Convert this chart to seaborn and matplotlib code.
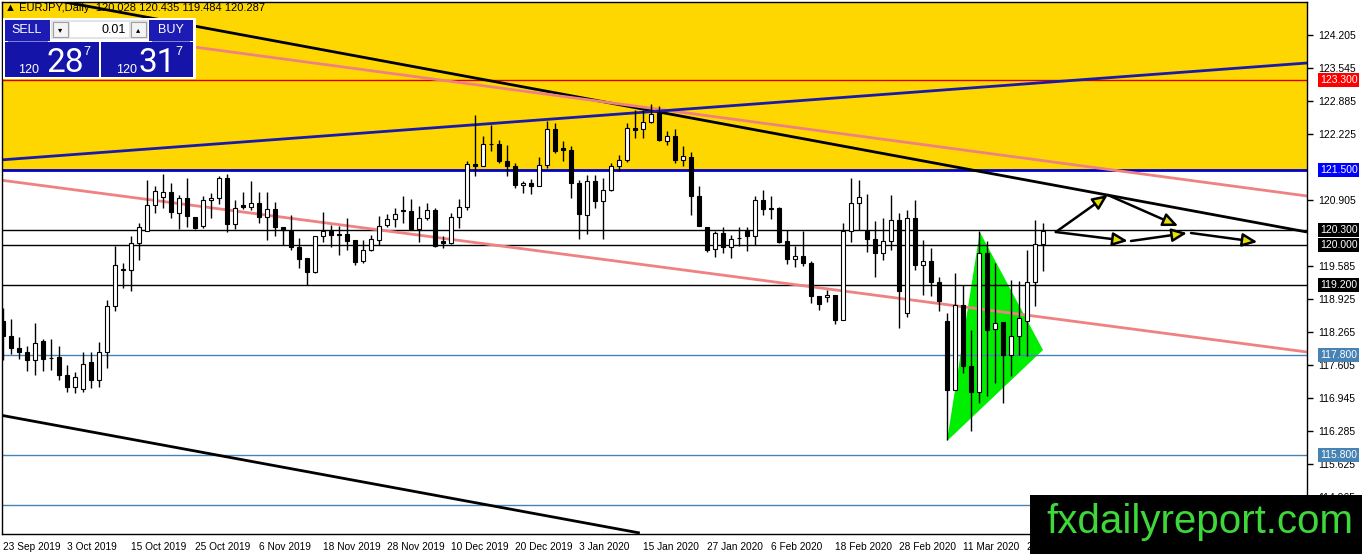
import numpy as np
import pandas as pd
import matplotlib
matplotlib.use('Agg')
import matplotlib.pyplot as plt
import matplotlib.transforms as mtransforms
from matplotlib.patches import Rectangle, Polygon
import seaborn as sns

# EURJPY daily candles (23 Sep 2019 .. 23 Mar 2020)
opens = [118.47, 118.18, 117.93, 117.86, 117.69, 118.08, 117.74, 117.75, 117.40, 117.15,
         117.11, 117.65, 117.30, 117.85, 118.78, 119.50, 119.50, 120.03, 120.28, 120.80,
         120.95, 121.05, 120.63, 120.93, 120.55, 120.37, 120.89, 120.93, 121.33, 120.42,
         120.80, 120.75, 120.83, 120.55, 120.71, 120.35, 120.28, 119.95, 119.73, 119.45,
         120.18, 120.27, 120.21, 120.21, 120.10, 119.67, 119.89, 120.10, 120.39, 120.51,
         120.70, 120.67, 120.31, 120.53, 120.70, 120.08, 120.03, 120.55, 120.75, 121.62,
         121.57, 122.02, 122.01, 121.68, 121.57, 121.19, 121.23, 121.17, 121.59, 122.32,
         121.93, 121.90, 121.23, 120.60, 121.28, 120.87, 121.09, 121.57, 121.69, 122.33,
         122.31, 122.45, 122.63, 122.08, 122.18, 121.69, 121.75, 120.98, 120.35, 119.91,
         120.23, 119.95, 120.13, 120.27, 120.18, 120.90, 120.73, 120.73, 120.07, 119.71,
         119.78, 119.63, 118.98, 118.95, 119.00, 118.49, 120.27, 120.83, 120.28, 120.11,
         119.83, 120.07, 120.50, 118.63, 120.53, 119.60, 119.68, 119.25, 118.47, 117.10,
         118.80, 117.58, 117.05, 119.83, 118.31, 118.45, 117.80, 118.17, 118.47, 119.25,
         120.028]
highs = [118.73, 118.52, 118.15, 117.97, 118.43, 118.12, 118.12, 117.97, 117.60, 117.45,
         117.85, 117.85, 118.05, 118.90, 119.97, 119.63, 120.18, 120.43, 121.30, 121.18,
         121.42, 121.23, 121.00, 121.33, 120.55, 120.97, 121.03, 121.38, 121.42, 120.90,
         121.05, 121.27, 121.05, 121.05, 120.85, 120.35, 120.60, 120.13, 119.73, 120.17,
         120.65, 120.40, 120.37, 120.53, 120.10, 120.10, 120.20, 120.57, 120.62, 120.73,
         120.97, 120.92, 120.77, 120.83, 120.73, 120.17, 120.63, 120.91, 121.68, 122.60,
         122.18, 122.40, 122.10, 122.00, 121.63, 121.28, 121.32, 121.75, 122.47, 122.43,
         122.07, 121.97, 121.30, 121.40, 121.40, 121.33, 121.63, 121.80, 122.43, 122.70,
         122.70, 122.81, 122.77, 122.28, 122.31, 121.97, 121.85, 121.18, 120.35, 120.28,
         120.35, 120.20, 120.35, 120.35, 120.97, 121.10, 120.98, 120.75, 120.30, 119.98,
         120.27, 119.67, 118.98, 119.09, 119.00, 120.43, 121.33, 121.30, 121.02, 120.47,
         120.53, 121.00, 120.63, 120.69, 120.90, 120.09, 119.93, 119.35, 118.63, 119.43,
         119.20, 118.30, 120.27, 120.07, 119.63, 118.45, 119.29, 119.27, 119.90, 120.50,
         120.435]
lows = [117.70, 117.82, 117.71, 117.47, 117.39, 117.48, 117.49, 117.29, 117.05, 117.03,
        117.05, 117.13, 117.15, 117.53, 118.67, 119.13, 119.07, 119.69, 120.28, 120.63,
        120.73, 120.53, 120.32, 120.35, 120.32, 120.33, 120.53, 120.82, 120.25, 120.31,
        120.71, 120.70, 120.43, 120.10, 120.17, 120.00, 119.90, 119.53, 119.20, 119.43,
        120.05, 119.95, 119.80, 119.89, 119.60, 119.63, 119.87, 120.00, 120.35, 120.35,
        120.43, 120.31, 120.05, 120.50, 119.95, 119.93, 120.02, 120.33, 120.69, 121.38,
        121.57, 121.87, 121.63, 121.37, 121.13, 121.03, 121.01, 121.17, 121.53, 121.83,
        121.67, 120.93, 120.12, 120.21, 120.73, 120.12, 121.07, 121.47, 121.65, 122.13,
        122.13, 122.43, 122.07, 121.99, 121.63, 121.57, 120.59, 120.37, 119.85, 119.75,
        119.83, 119.73, 119.97, 119.87, 120.00, 120.60, 120.51, 120.03, 119.61, 119.55,
        119.57, 118.83, 118.70, 118.85, 118.42, 118.49, 120.05, 120.30, 119.85, 119.35,
        119.69, 119.89, 118.33, 118.55, 119.50, 118.99, 118.97, 118.67, 116.10, 117.10,
        117.43, 116.27, 116.83, 116.97, 117.23, 116.83, 117.37, 117.80, 117.77, 118.77,
        119.484]
closes = [118.17, 117.93, 117.85, 117.69, 118.03, 117.72, 117.73, 117.39, 117.15, 117.35,
          117.62, 117.29, 117.85, 118.78, 119.59, 119.52, 120.03, 120.35, 120.80, 121.08,
          121.05, 120.65, 120.93, 120.57, 120.33, 120.90, 120.93, 121.33, 120.42, 120.73,
          120.75, 120.83, 120.55, 120.71, 120.35, 120.29, 119.95, 119.71, 119.45, 120.17,
          120.27, 120.20, 120.19, 120.08, 119.65, 119.90, 120.11, 120.38, 120.52, 120.61,
          120.67, 120.31, 120.53, 120.70, 119.98, 120.03, 120.55, 120.75, 121.61, 121.57,
          122.01, 122.01, 121.67, 121.57, 121.20, 121.23, 121.17, 121.59, 122.32, 121.88,
          121.89, 121.23, 120.61, 121.27, 120.87, 121.09, 121.57, 121.70, 122.33, 122.30,
          122.45, 122.61, 122.09, 122.18, 121.69, 121.78, 120.97, 120.38, 119.90, 120.23,
          119.95, 120.11, 120.14, 120.18, 120.90, 120.71, 120.71, 120.05, 119.71, 119.78,
          119.63, 118.97, 118.81, 119.00, 118.49, 120.27, 120.83, 120.95, 120.11, 119.83,
          120.07, 120.49, 119.07, 120.53, 119.60, 119.68, 119.25, 118.87, 117.10, 118.80,
          117.57, 117.05, 119.83, 118.30, 118.43, 117.80, 118.18, 118.53, 119.25, 120.01,
          120.287]

date_labels = ['23 Sep 2019', '3 Oct 2019', '15 Oct 2019', '25 Oct 2019', '6 Nov 2019',
               '18 Nov 2019', '28 Nov 2019', '10 Dec 2019', '20 Dec 2019', '3 Jan 2020',
               '15 Jan 2020', '27 Jan 2020', '6 Feb 2020', '18 Feb 2020', '28 Feb 2020',
               '11 Mar 2020', '23 Mar 2020']
bars_per_label = 8

price_ticks = [124.205, 123.545, 122.885, 122.225, 120.905, 119.585, 118.925,
               118.265, 117.605, 116.945, 116.285, 115.625, 114.965]

# horizontal levels: (price, line colour, tag colour)
levels = [(123.300, '#d40000', '#ff0000'),
          (121.500, '#0000c8', '#0000ff'),
          (120.300, '#000000', '#000000'),
          (120.000, '#000000', '#000000'),
          (119.200, '#000000', '#000000'),
          (117.800, '#4682b4', '#4682b4'),
          (115.800, '#4682b4', '#4682b4'),
          (114.800, '#4682b4', None)]

# trend lines: (bar, price) anchors
trend_lines = {
    'upper black': [(-0.4, 125.10), (163.0, 120.26)],
    'lower black': [(-0.4, 116.60), (79.6, 114.24)],
    'upper pink': [(-0.4, 124.48), (163.0, 120.98)],
    'lower pink': [(-0.4, 121.30), (163.0, 117.86)],
    'blue': [(-0.4, 121.70), (163.0, 123.64)],
}
trend_colors = {'upper black': 'black', 'lower black': 'black',
                'upper pink': '#ee8282', 'lower pink': '#ee8282', 'blue': '#1a1aa8'}

pennant = [(118.0, 116.08), (122.1, 120.26), (130.0, 117.90)]

# projected path arrows (bar, price) -> (bar, price)
arrows = [((131.6, 120.26), (138.1, 121.00)),
          ((138.1, 121.00), (146.9, 120.38)),
          ((131.6, 120.26), (140.6, 120.08)),
          ((141.0, 120.08), (148.0, 120.24)),
          ((148.5, 120.24), (156.8, 120.06))]

W, H = 1362, 554
UI_FONT = ['Liberation Sans', 'DejaVu Sans']

sns.set_style('white')
plt.rcParams['font.family'] = UI_FONT

fig = plt.figure(figsize=(W / 100, H / 100), dpi=100)
ax = fig.add_axes([2 / W, 20 / H, 1305 / W, 532 / H])

ymin, ymax = 114.22, 124.86
ax.set_xlim(-0.125, 163.0)
ax.set_ylim(ymin, ymax)

# yellow resistance zone
ax.axhspan(121.5, ymax, color='#ffd700', zorder=0, lw=0)

# pennant
ax.add_patch(Polygon(pennant, closed=True, facecolor='#00ee00', edgecolor='none', zorder=1))

# horizontal levels
for price, lc, _ in levels:
    ax.axhline(price, color=lc, lw=2 if price == 121.5 else 1, zorder=2)

# trend lines with seaborn
trend_df = pd.DataFrame([(name, b, p) for name, pts in trend_lines.items() for b, p in pts],
                        columns=['line', 'bar', 'price'])
sns.lineplot(data=trend_df, x='bar', y='price', hue='line', palette=trend_colors,
             units='line', estimator=None, sort=False, linewidth=2, legend=False, ax=ax, zorder=2)
for ln in ax.lines:
    ln.set_solid_capstyle('butt')

# candles
o = np.array(opens); h = np.array(highs); l = np.array(lows); c = np.array(closes)
idx = np.arange(len(o))
up = c >= o
ax.vlines(idx, l, h, color='black', lw=1, zorder=3)
ax.bar(idx, np.maximum(np.abs(c - o), 0.012), bottom=np.minimum(o, c), width=0.62,
       color=np.where(up, 'white', 'black'), edgecolor='black', linewidth=0.8, zorder=4)

# arrows
for (x0, y0), (x1, y1) in arrows:
    ax.annotate('', xy=(x1, y1), xytext=(x0, y0),
                arrowprops=dict(arrowstyle='-|>,head_length=0.9,head_width=0.4', lw=1.8,
                                fc='#e6e000', ec='black', shrinkA=0, shrinkB=0,
                                mutation_scale=10),
                zorder=5)

# axes styling
for s in ax.spines.values():
    s.set_color('black')
    s.set_linewidth(1)
ax.set_xlabel('')
ax.set_ylabel('')
ax.set_xticks(np.arange(len(date_labels)) * bars_per_label)
ax.set_xticklabels(date_labels, ha='left')
ax.tick_params(axis='x', direction='out', length=4, width=1, pad=1.5, labelsize=7.3, colors='black')
ax.yaxis.tick_right()
ax.set_yticks(price_ticks)
ax.set_yticklabels([f'{v:.3f}' for v in price_ticks])
ax.tick_params(axis='y', direction='out', length=4, width=1, pad=4, labelsize=7.5, colors='black')

# level tags on the price scale
tag_tr = mtransforms.blended_transform_factory(fig.transFigure, ax.transData)
for price, _, tc in levels:
    if tc is None:
        continue
    ax.text(1320 / W, price, f'{price:.3f}', transform=tag_tr, fontsize=7.5, color='white',
            va='center', ha='left', zorder=6, clip_on=False,
            bbox=dict(boxstyle='square,pad=0.15', fc=tc, ec='none'))


def px(x, y):
    return x / W, 1 - y / H


def box(x0, y0, x1, y1, color, z=20, ec='none'):
    fig.add_artist(Rectangle(px(x0, y1), (x1 - x0) / W, (y1 - y0) / H, transform=fig.transFigure,
                             facecolor=color, edgecolor=ec, lw=0.8, zorder=z))


def label(x, y, s, size, color='white', ha='center', va='center', **kw):
    fig.text(*px(x, y), s, fontsize=size, color=color, ha=ha, va=va, zorder=25, **kw)


# header
label(5, 8, '\u25b2 EURJPY,Daily  120.028 120.435 119.484 120.287', 8, color='black', ha='left')

# one-click trading panel
box(3, 18, 196, 79, 'white')
box(5, 20, 50, 41, '#1c1cb4')
box(149, 20, 193, 41, '#1c1cb4')
box(5, 42, 99, 77, '#1414a8')
box(101, 42, 193, 77, '#1414a8')
box(51, 20, 148, 39, '#e4e4e4')
box(53, 22, 68, 37, '#f4f4f4', ec='#a0a0a0')
box(131, 22, 146, 37, '#f4f4f4', ec='#a0a0a0')
box(70, 22, 129, 37, 'white')
box(8, 41, 48, 42, '#8080d0', z=21)
box(152, 41, 190, 42, '#8080d0', z=21)
label(27, 30, 'SELL', 9)
label(171, 30, 'BUY', 9)
label(60.5, 30, '\u25be', 6, color='black', family=['DejaVu Sans'])
label(138.5, 30, '\u25b4', 6, color='black', family=['DejaVu Sans'])
label(126, 30, '0.01', 9, color='black', ha='right')
big = dict(family=['Roboto', 'DejaVu Sans'])
label(39, 73, '120', 9, ha='right', va='baseline')
label(46, 72, '28', 24, ha='left', va='baseline', **big)
label(83, 55, '7', 9, ha='left', va='baseline')
label(137, 73, '120', 9, ha='right', va='baseline')
label(139, 72, '31', 24, ha='left', va='baseline', **big)
label(175, 55, '7', 9, ha='left', va='baseline')

# watermark
box(1030, 495, 1362, 554, 'black', z=30)
fig.text(*px(1046, 533), 'fxdailyreport.com', fontsize=29, color='#3ed83a',
         family=UI_FONT, ha='left', va='baseline', zorder=31)

fig.savefig('out.png', dpi=100)
